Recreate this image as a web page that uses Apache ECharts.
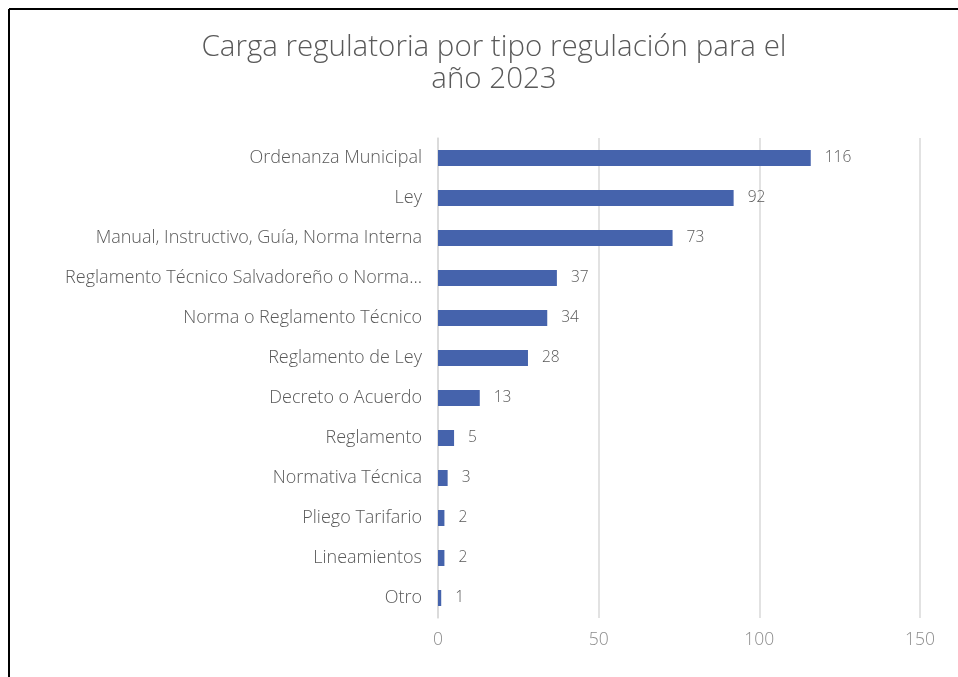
<!DOCTYPE html>
<html>
<head>
<meta charset="utf-8">
<script src="https://cdn.jsdelivr.net/npm/echarts@6/dist/echarts.min.js"></script>
<style>
  html, body { margin: 0; padding: 0; background: #fff; }
  #chart { width: 958px; height: 677px; }
</style>
</head>
<body>
<div id="chart"></div>
<script>
// 类别（从上到下）
const categories = [
  'Ordenanza Municipal',
  'Ley',
  'Manual, Instructivo, Guía, Norma Interna',
  'Reglamento Técnico Salvadoreño o Norma...',
  'Norma o Reglamento Técnico',
  'Reglamento de Ley',
  'Decreto o Acuerdo',
  'Reglamento',
  'Normativa Técnica',
  'Pliego Tarifario',
  'Lineamientos',
  'Otro'
]
// 数值
const values = [116, 92, 73, 37, 34, 28, 13, 5, 3, 2, 2, 1]
// 刻度
const xTicks = [0, 50, 100, 150]

const textColor = '#595959'
const font = 'Open Sans'

const mChart = echarts.init(document.getElementById('chart'))

const options = {
  animation: false,
  title: {
    text: 'Carga regulatoria por tipo regulación para el\naño 2023',
    left: 489,
    top: 27,
    textAlign: 'center',
    textStyle: {
      color: textColor,
      fontFamily: font,
      fontWeight: 300,
      fontSize: 29.5,
      lineHeight: 32
    }
  },
  // 外框
  graphic: [
    { type: 'line', shape: { x1: 9, y1: 9, x2: 958, y2: 9 }, style: { stroke: '#000', lineWidth: 2 } },
    { type: 'line', shape: { x1: 9, y1: 9, x2: 9, y2: 677 }, style: { stroke: '#000', lineWidth: 2 } }
  ],
  grid: {
    left: 438,
    right: 958 - 920,
    top: 138,
    bottom: 677 - 618,
    containLabel: false
  },
  xAxis: {
    type: 'value',
    min: xTicks[0],
    max: xTicks[xTicks.length - 1],
    interval: 50,
    axisLine: { show: false },
    axisTick: { show: false },
    axisLabel: {
      color: '#8c8c8c',
      fontFamily: font,
      fontWeight: 300,
      fontSize: 17.5,
      margin: 13
    },
    splitLine: { lineStyle: { color: '#d9d9d9', width: 1.5 } }
  },
  yAxis: {
    type: 'category',
    data: categories,
    inverse: true,
    axisLine: { show: true, lineStyle: { color: '#d9d9d9', width: 1.5 } },
    axisTick: { show: false },
    axisLabel: {
      color: textColor,
      fontFamily: font,
      fontWeight: 300,
      fontSize: 18,
      margin: 16
    }
  },
  series: [
    {
      type: 'bar',
      data: values,
      barWidth: 16,
      itemStyle: { color: '#4563ac' },
      label: {
        show: true,
        position: 'right',
        distance: 14,
        color: textColor,
        fontFamily: font,
        fontWeight: 300,
        fontSize: 15.5
      }
    }
  ]
}

mChart.setOption(options)
</script>
</body>
</html>
